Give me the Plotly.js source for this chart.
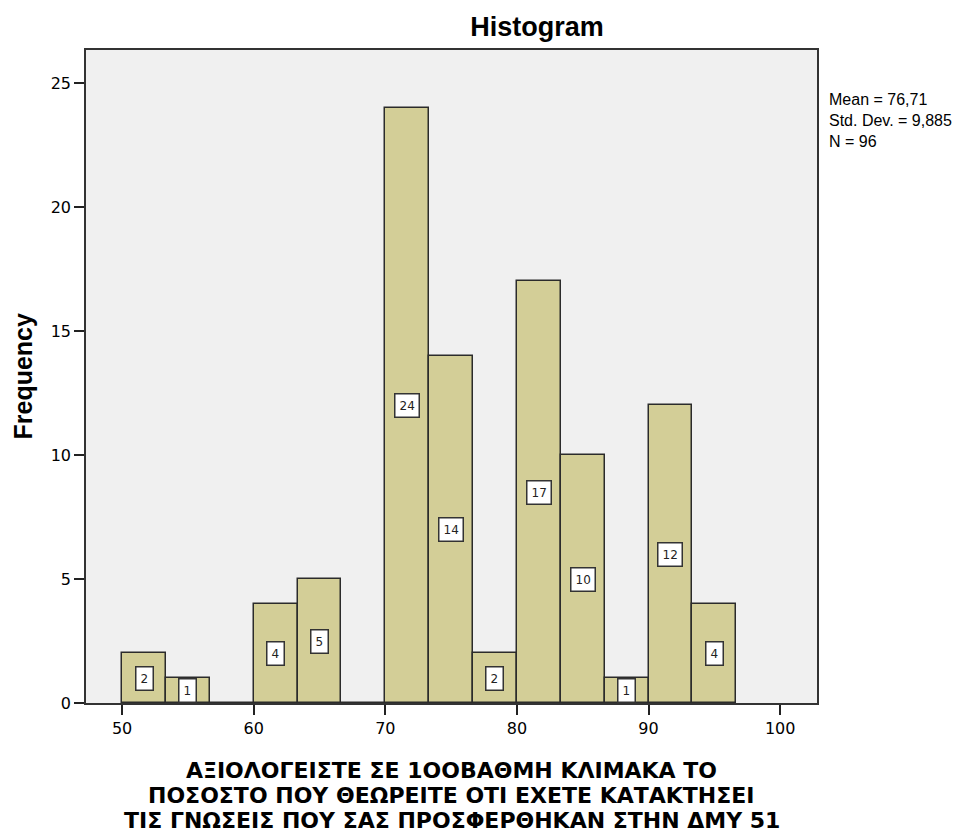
<!DOCTYPE html>
<html>
<head>
<meta charset="utf-8">
<script src="https://cdn.plot.ly/plotly-3.0.1.min.js"></script>
<style>html,body{margin:0;padding:0;background:#fff;}#chart{width:979px;height:832px;}</style>
</head>
<body>
<div id="chart"></div>
<script>
// Bin left edges (bin width 10/3) and frequencies
const binStart = 50;
const binWidth = 10 / 3;
const binIndex = [0, 1, 2, 3, 4, 5, 6, 7, 8, 9, 10, 11, 12, 13];
const frequencies = [2, 1, 0, 4, 5, 0, 24, 14, 2, 17, 10, 1, 12, 4];
const xTicks = [50, 60, 70, 80, 90, 100];
const yTicks = [0, 5, 10, 15, 20, 25];
const statsLines = ["Mean = 76,71", "Std. Dev. = 9,885", "N = 96"];
const xTitleLines = [
  "ΑΞΙΟΛΟΓΕΙΣΤΕ ΣΕ 1ΟΟΒΑΘΜΗ ΚΛΙΜΑΚΑ ΤΟ",
  "ΠΟΣΟΣΤΟ ΠΟΥ ΘΕΩΡΕΙΤΕ ΟΤΙ ΕΧΕΤΕ ΚΑΤΑΚΤΗΣΕΙ",
  "ΤΙΣ ΓΝΩΣΕΙΣ ΠΟΥ ΣΑΣ ΠΡΟΣΦΕΡΘΗΚΑΝ ΣΤΗΝ ΔΜΥ 51"
];

const WIDE = 'DejaVu Sans, Arial, sans-serif';
const ARIAL = 'Arial, Liberation Sans, sans-serif';

const centers = binIndex.map(i => binStart + binWidth * (i + 0.5));

const anns = [];
frequencies.forEach((v, i) => {
  if (v > 0) {
    anns.push({
      x: centers[i], y: v / 2, xref: 'x', yref: 'y',
      text: String(v), showarrow: false,
      font: {family: WIDE, size: 12, color: '#222'},
      bgcolor: '#ffffff', bordercolor: '#333333', borderwidth: 1.5, borderpad: 4
    });
  }
});

// stats text
anns.push({
  xref: 'paper', yref: 'paper', x: 1.0, xshift: 10, y: 1.0, yshift: -39,
  xanchor: 'left', yanchor: 'top', align: 'left', showarrow: false,
  text: statsLines.join('<br>'),
  font: {family: ARIAL, size: 16, color: '#000'}
});

// x axis title lines
xTitleLines.forEach((s, i) => {
  anns.push({
    xref: 'paper', yref: 'paper', x: 0.5, y: 0, yshift: -67 - 25 * i,
    xanchor: 'center', yanchor: 'middle', showarrow: false,
    text: '<b>' + s + '</b>',
    font: {family: WIDE, size: 22, color: '#000'}
  });
});

// y axis title
anns.push({
  xref: 'paper', yref: 'paper', x: 0, xshift: -64, y: 0.5,
  xanchor: 'center', yanchor: 'middle', showarrow: false, textangle: -90,
  text: '<b>Frequency</b>',
  font: {family: ARIAL, size: 25, color: '#000'}
});

const data = [{
  type: 'bar',
  x: centers,
  y: frequencies,
  width: binWidth,
  marker: {color: '#d3ce97', line: {color: '#2b2b2b', width: 1.5}},
  hoverinfo: 'x+y'
}];

const layout = {
  width: 979, height: 832,
  margin: {l: 86, r: 162, t: 50, b: 129},
  paper_bgcolor: '#ffffff',
  plot_bgcolor: '#f0f0f0',
  showlegend: false,
  bargap: 0,
  font: {family: ARIAL, color: '#000'},
  title: {
    text: '<b>Histogram</b>',
    font: {family: ARIAL, size: 27, color: '#000'},
    x: 0.617, xref: 'paper', xanchor: 'center', y: 0.968, yanchor: 'middle'
  },
  xaxis: {
    range: [47.26, 102.8],
    tickvals: xTicks, ticktext: xTicks.map(String),
    ticks: 'outside', ticklen: 10, tickwidth: 1.5, tickcolor: '#222',
    showline: true, linecolor: '#333', linewidth: 1.5, mirror: true,
    showgrid: false, zeroline: false,
    tickfont: {family: WIDE, size: 16, color: '#000'}
  },
  yaxis: {
    range: [0, 26.33],
    tickvals: yTicks, ticktext: yTicks.map(String),
    ticks: 'outside', ticklen: 10, tickwidth: 1.5, tickcolor: '#222',
    showline: true, linecolor: '#333', linewidth: 1.5, mirror: true,
    showgrid: false, zeroline: false,
    tickfont: {family: WIDE, size: 16, color: '#000'}
  },
  annotations: anns
};

Plotly.newPlot('chart', data, layout, {displayModeBar: false});
</script>
</body>
</html>
